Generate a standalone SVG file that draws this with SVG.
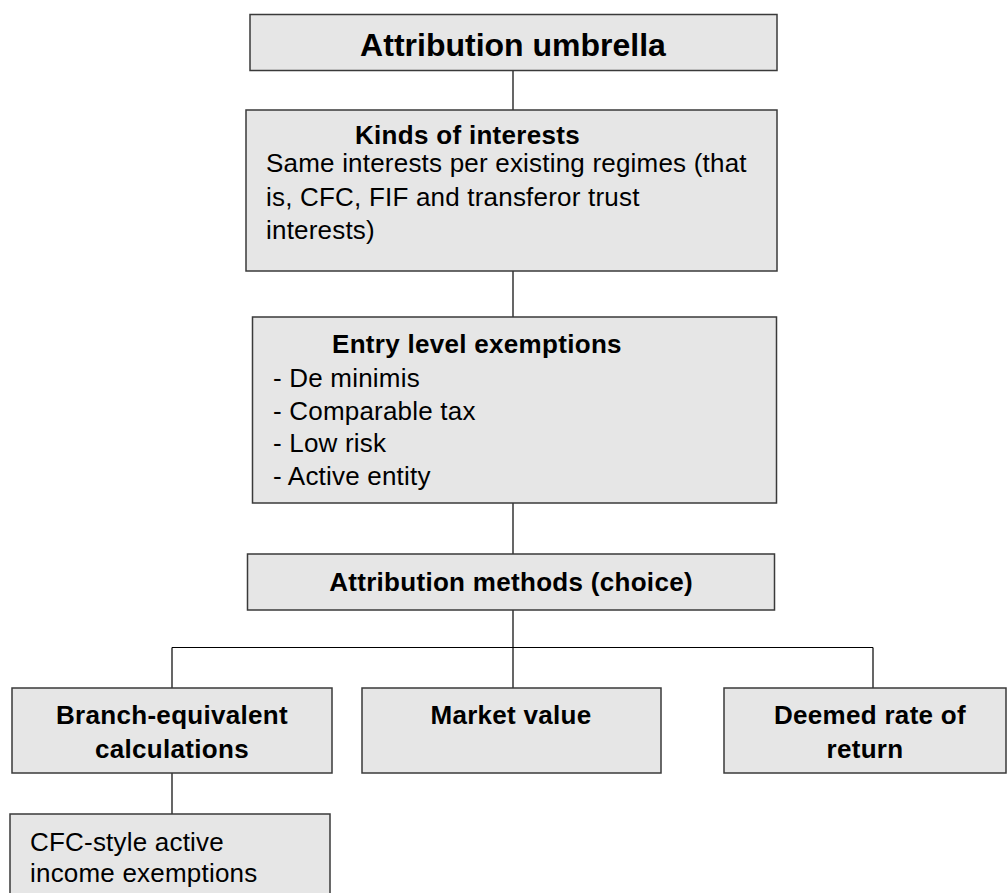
<svg xmlns="http://www.w3.org/2000/svg" width="1008" height="893" viewBox="0 0 1008 893">
<style>
.box{fill:#e6e6e6;stroke:#3a3a3a;stroke-width:1.5}
.conn{stroke:#000;stroke-width:1.2;fill:none}
text{font-family:"Liberation Sans",Arial,sans-serif;fill:#000}
.t{font-size:32px;font-weight:bold}
.b{font-size:26px;font-weight:bold;letter-spacing:0.3px}
.r{font-size:26px;letter-spacing:0.2px}
</style>
<rect width="1008" height="893" fill="#fff"/>
<g id="connectors">
<line class="conn" x1="513" y1="71" x2="513" y2="110"/>
<line class="conn" x1="513" y1="271" x2="513" y2="317"/>
<line class="conn" x1="513" y1="503" x2="513" y2="554"/>
<line class="conn" x1="513" y1="610" x2="513" y2="688"/>
<line class="conn" x1="172" y1="647.5" x2="873" y2="647.5"/>
<line class="conn" x1="172" y1="647.5" x2="172" y2="688"/>
<line class="conn" x1="873" y1="647.5" x2="873" y2="688"/>
<line class="conn" x1="172" y1="773" x2="172" y2="814"/>
</g>
<g id="n-umbrella">
<rect class="box" x="250" y="14.5" width="527" height="56"/>
<text class="t" x="513" y="56" text-anchor="middle">Attribution umbrella</text>
</g>
<g id="n-kinds">
<rect class="box" x="246" y="110" width="531" height="161"/>
<text class="b" x="355" y="143.5">Kinds of interests</text>
<text class="r" x="266" y="172">Same interests per existing regimes (that</text>
<text class="r" x="266" y="205.5">is, CFC, FIF and transferor trust</text>
<text class="r" x="266" y="239">interests)</text>
</g>
<g id="n-entry">
<rect class="box" x="252.5" y="317" width="524" height="186"/>
<text class="b" x="332" y="353">Entry level exemptions</text>
<text class="r" x="273" y="387">- De minimis</text>
<text class="r" x="273" y="419.5">- Comparable tax</text>
<text class="r" x="273" y="452">- Low risk</text>
<text class="r" x="273" y="484.5">- Active entity</text>
</g>
<g id="n-methods">
<rect class="box" x="247.5" y="554" width="527" height="56"/>
<text class="b" x="511" y="590.5" text-anchor="middle">Attribution methods (choice)</text>
</g>
<g id="n-branch">
<rect class="box" x="12" y="688" width="320" height="85"/>
<text class="b" x="172" y="724" text-anchor="middle">Branch-equivalent</text>
<text class="b" x="172" y="758" text-anchor="middle">calculations</text>
</g>
<g id="n-market">
<rect class="box" x="362" y="688" width="299" height="85"/>
<text class="b" x="511" y="724" text-anchor="middle">Market value</text>
</g>
<g id="n-deemed">
<rect class="box" x="724" y="688" width="282" height="85"/>
<text class="b" x="870" y="724" text-anchor="middle">Deemed rate of</text>
<text class="b" x="865" y="758" text-anchor="middle">return</text>
</g>
<g id="n-cfc">
<rect class="box" x="10" y="814" width="320" height="90"/>
<text class="r" x="30" y="851">CFC-style active</text>
<text class="r" x="30" y="882">income exemptions</text>
</g>
</svg>
